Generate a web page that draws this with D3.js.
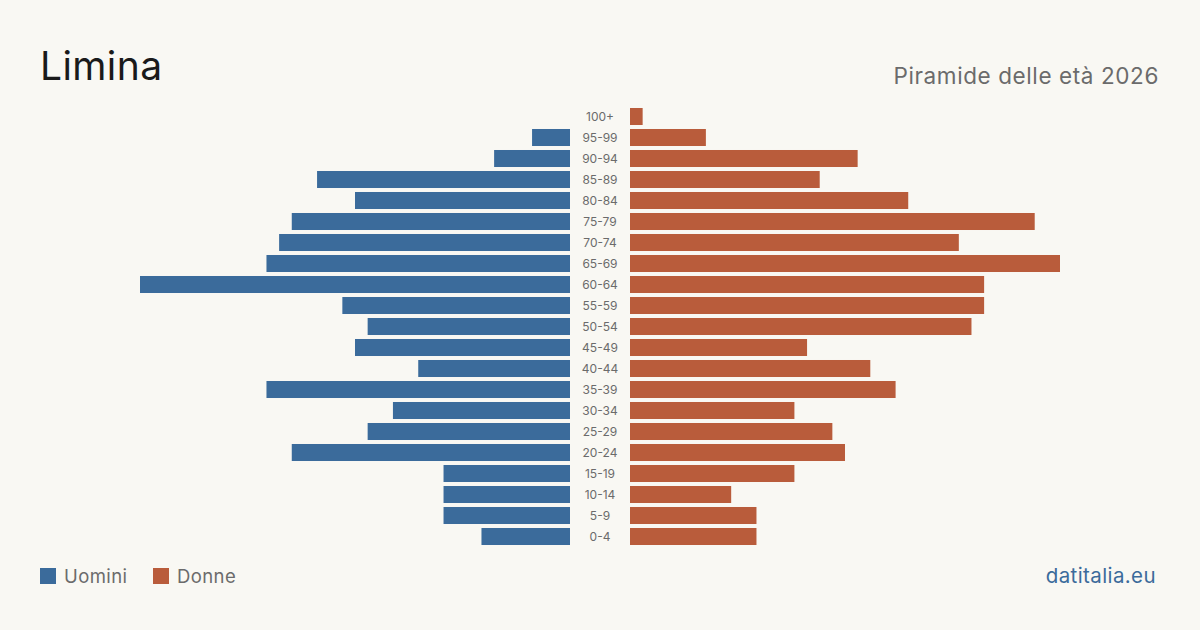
<!DOCTYPE html>
<html>
<head>
<meta charset="utf-8">
<script src="https://cdn.jsdelivr.net/npm/d3@7"></script>
<style>
  body { margin: 0; background: #f9f8f3; }
  svg { font-family: Inter, "Noto Sans", sans-serif; display: block; }
</style>
</head>
<body>
<div id="chart"></div>
<script>
var ages = ["100+", "95-99", "90-94", "85-89", "80-84", "75-79", "70-74", "65-69", "60-64", "55-59",
            "50-54", "45-49", "40-44", "35-39", "30-34", "25-29", "20-24", "15-19", "10-14", "5-9", "0-4"];
var uomini = [0, 3, 6, 20, 17, 22, 23, 24, 34, 18, 16, 17, 12, 24, 14, 16, 22, 10, 10, 10, 7];
var donne  = [1, 6, 18, 15, 22, 32, 26, 34, 28, 28, 27, 14, 19, 21, 13, 16, 17, 13, 8, 10, 10];

var width = 1200, height = 630;
var center = 600, gap = 30;

var svg = d3.select("#chart")
    .append("svg")
    .attr("width", width)
    .attr("height", height);

svg.append("rect")
    .attr("width", width)
    .attr("height", height)
    .attr("fill", "#f9f8f3");

var x = d3.scaleLinear()
    .domain([0, 34])
    .range([0, 430]);

var y = d3.scaleBand()
    .domain(ages)
    .range([106, 547])
    .paddingInner(0.19)
    .paddingOuter(0.095);

// left bars (uomini)
svg.selectAll(".bar-m")
    .data(ages)
    .enter()
    .append("rect")
    .attr("class", "bar-m")
    .attr("x", function(d, i) { return center - gap - x(uomini[i]); })
    .attr("y", function(d) { return y(d); })
    .attr("width", function(d, i) { return x(uomini[i]); })
    .attr("height", y.bandwidth())
    .attr("fill", "#3b6b9b");

// right bars (donne)
svg.selectAll(".bar-f")
    .data(ages)
    .enter()
    .append("rect")
    .attr("class", "bar-f")
    .attr("x", center + gap)
    .attr("y", function(d) { return y(d); })
    .attr("width", function(d, i) { return x(donne[i]); })
    .attr("height", y.bandwidth())
    .attr("fill", "#b95c3b");

// age labels
svg.selectAll(".age")
    .data(ages)
    .enter()
    .append("text")
    .attr("class", "age")
    .attr("x", center)
    .attr("y", function(d) { return y(d) + y.bandwidth() / 2; })
    .attr("dy", "0.35em")
    .attr("text-anchor", "middle")
    .attr("font-size", 12)
    .attr("fill", "#6b6b6b")
    .text(function(d) { return d; });

// title
svg.append("text")
    .attr("x", 40)
    .attr("y", 80)
    .attr("font-size", 39)
    .attr("letter-spacing", 0.4)
    .attr("fill", "#1a1a1a")
    .text("Limina");

svg.append("text")
    .attr("x", 1159)
    .attr("y", 84)
    .attr("text-anchor", "end")
    .attr("font-size", 22.5)
    .attr("letter-spacing", 0.6)
    .attr("fill", "#6b6b6b")
    .text("Piramide delle età 2026");

// legend
var legend = [{name: "Uomini", color: "#3b6b9b", x: 40}, {name: "Donne", color: "#b95c3b", x: 153}];
var lg = svg.selectAll(".legend")
    .data(legend)
    .enter()
    .append("g")
    .attr("class", "legend")
    .attr("transform", function(d) { return "translate(" + d.x + ",568)"; });

lg.append("rect")
    .attr("width", 16)
    .attr("height", 16)
    .attr("fill", function(d) { return d.color; });

lg.append("text")
    .attr("x", 24)
    .attr("y", 15)
    .attr("font-size", 18.5)
    .attr("letter-spacing", 0.4)
    .attr("fill", "#6b6b6b")
    .text(function(d) { return d.name; });

svg.append("text")
    .attr("x", 1156)
    .attr("y", 583)
    .attr("text-anchor", "end")
    .attr("font-size", 20.5)
    .attr("letter-spacing", 0.4)
    .attr("fill", "#3b6b9b")
    .text("datitalia.eu");
</script>
</body>
</html>
